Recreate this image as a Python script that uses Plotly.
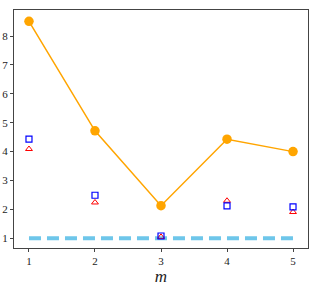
import plotly.graph_objects as go

m = [1, 2, 3, 4, 5]
orange_vals = [8.51, 4.72, 2.13, 4.43, 4.0]
square_vals = [4.43, 2.49, 1.08, 2.12, 2.09]
triangle_vals = [4.09, 2.24, 1.05, 2.30, 1.91]
baseline_vals = [1, 1, 1, 1, 1]
y_ticks = [1, 2, 3, 4, 5, 6, 7, 8]

fig = go.Figure()
fig.add_trace(go.Scatter(x=m, y=baseline_vals, mode="lines",
                         line=dict(color="#6ec6ea", width=4, dash="12px,6px")))
fig.add_trace(go.Scatter(x=m, y=triangle_vals, mode="markers",
                         marker=dict(symbol="triangle-up-open", color="red", size=6, line=dict(width=1))))
fig.add_trace(go.Scatter(x=m, y=square_vals, mode="markers",
                         marker=dict(symbol="square-open", color="blue", size=6, line=dict(width=1.2))))
fig.add_trace(go.Scatter(x=m, y=orange_vals, mode="lines+markers",
                         line=dict(color="#FFA500", width=1.5),
                         marker=dict(color="#FFA500", size=9.5)))

axis_common = dict(showline=True, linecolor="#444", linewidth=1, mirror=True, automargin=False,
                   showgrid=False, zeroline=False, ticks="outside", ticklen=3,
                   tickcolor="#444", tickfont=dict(family="Liberation Serif, serif", size=11, color="#222"))
fig.update_layout(
    width=319, height=294,
    margin=dict(l=14, r=11, t=10, b=46),
    paper_bgcolor="white", plot_bgcolor="white",
    showlegend=False,
    xaxis=dict(range=[0.773, 5.227], tickvals=m, title=dict(text="<i>m</i>", standoff=2,
               font=dict(family="Liberation Serif, serif", size=17, color="#222")), **axis_common),
    yaxis=dict(range=[0.665, 8.9], tickvals=y_ticks, **axis_common),
)
fig.write_html("out.html", config={"displayModeBar": False},
               post_script="document.body.style.margin='0';")
